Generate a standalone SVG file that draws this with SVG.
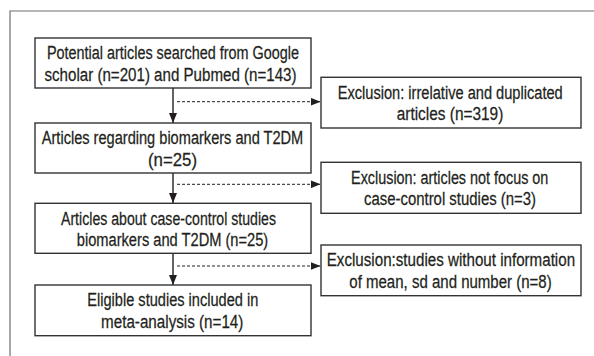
<svg xmlns="http://www.w3.org/2000/svg" width="594" height="356" viewBox="0 0 594 356">
<style>
.frame{fill:none;stroke:#6d6e71;stroke-width:1.2}
.box{fill:#fff;stroke:#333;stroke-width:1.4}
.t{font-family:"Liberation Sans",Arial,sans-serif;font-size:17.6px;fill:#231f20;stroke:#231f20;stroke-width:0.25;text-anchor:middle}
.solid{fill:none;stroke:#231f20;stroke-width:1.4}
.dash{fill:none;stroke:#231f20;stroke-width:1;stroke-dasharray:3 2}
</style>
<defs>
<marker id="ah" markerUnits="userSpaceOnUse" markerWidth="10" markerHeight="8" refX="10" refY="4" orient="auto">
<path d="M0,0 L10,4 L0,8 Z" fill="#231f20"/>
</marker>
</defs>
<rect width="594" height="356" fill="#fff"/>
<path class="frame" d="M10,357 V11 H595"/>
<g id="connectors">
<line class="solid" x1="173" y1="88" x2="173" y2="123" marker-end="url(#ah)"/>
<line class="solid" x1="173" y1="173" x2="173" y2="203" marker-end="url(#ah)"/>
<line class="solid" x1="173" y1="253" x2="173" y2="285" marker-end="url(#ah)"/>
<line class="dash" x1="177" y1="101.7" x2="320.5" y2="101.7" marker-end="url(#ah)"/>
<line class="dash" x1="177" y1="184.3" x2="320.5" y2="184.3" marker-end="url(#ah)"/>
<line class="dash" x1="177" y1="266" x2="320.5" y2="266" marker-end="url(#ah)"/>
</g>
<g id="n1">
<rect class="box" x="35" y="38" width="276" height="50"/>
<text class="t" transform="translate(173 59.3) scale(0.82 1)" textLength="307.3" lengthAdjust="spacingAndGlyphs">Potential articles searched from Google</text>
<text class="t" transform="translate(170.5 80.7) scale(0.82 1)" textLength="307.3" lengthAdjust="spacingAndGlyphs">scholar (n=201) and Pubmed (n=143)</text>
</g>
<g id="n2">
<rect class="box" x="35" y="123" width="276" height="50"/>
<text class="t" transform="translate(172.5 144.3) scale(0.82 1)" textLength="318.9" lengthAdjust="spacingAndGlyphs">Articles regarding biomarkers and T2DM</text>
<text class="t" transform="translate(172.5 165.7) scale(0.82 1)" textLength="59.8" lengthAdjust="spacingAndGlyphs">(n=25)</text>
</g>
<g id="n3">
<rect class="box" x="35" y="203.3" width="276" height="50"/>
<text class="t" transform="translate(168.5 224.6) scale(0.82 1)" textLength="262.2" lengthAdjust="spacingAndGlyphs">Articles about case-control studies</text>
<text class="t" transform="translate(172.5 246) scale(0.82 1)" textLength="233.5" lengthAdjust="spacingAndGlyphs">biomarkers and T2DM (n=25)</text>
</g>
<g id="n4">
<rect class="box" x="35" y="285" width="276" height="50.7"/>
<text class="t" transform="translate(172.8 306.3) scale(0.82 1)" textLength="208.5" lengthAdjust="spacingAndGlyphs">Eligible studies included in</text>
<text class="t" transform="translate(172.2 327.7) scale(0.82 1)" textLength="173.5" lengthAdjust="spacingAndGlyphs">meta-analysis (n=14)</text>
</g>
<g id="e1">
<rect class="box" x="321" y="77.3" width="260" height="50.7"/>
<text class="t" transform="translate(450.2 98.6) scale(0.82 1)" textLength="274.4" lengthAdjust="spacingAndGlyphs">Exclusion: irrelative and duplicated</text>
<text class="t" transform="translate(450 120) scale(0.82 1)" textLength="130" lengthAdjust="spacingAndGlyphs">articles (n=319)</text>
</g>
<g id="e2">
<rect class="box" x="321" y="162.3" width="260" height="51"/>
<text class="t" transform="translate(449.7 183.6) scale(0.82 1)" textLength="240.6" lengthAdjust="spacingAndGlyphs">Exclusion: articles not focus on</text>
<text class="t" transform="translate(450 205) scale(0.82 1)" textLength="209.8" lengthAdjust="spacingAndGlyphs">case-control studies (n=3)</text>
</g>
<g id="e3">
<rect class="box" x="321" y="245" width="260" height="50.7"/>
<text class="t" transform="translate(450.9 266.3) scale(0.82 1)" textLength="302.8" lengthAdjust="spacingAndGlyphs">Exclusion:studies without information</text>
<text class="t" transform="translate(450.5 287.7) scale(0.82 1)" textLength="246.8" lengthAdjust="spacingAndGlyphs">of mean, sd and number (n=8)</text>
</g>
</svg>
